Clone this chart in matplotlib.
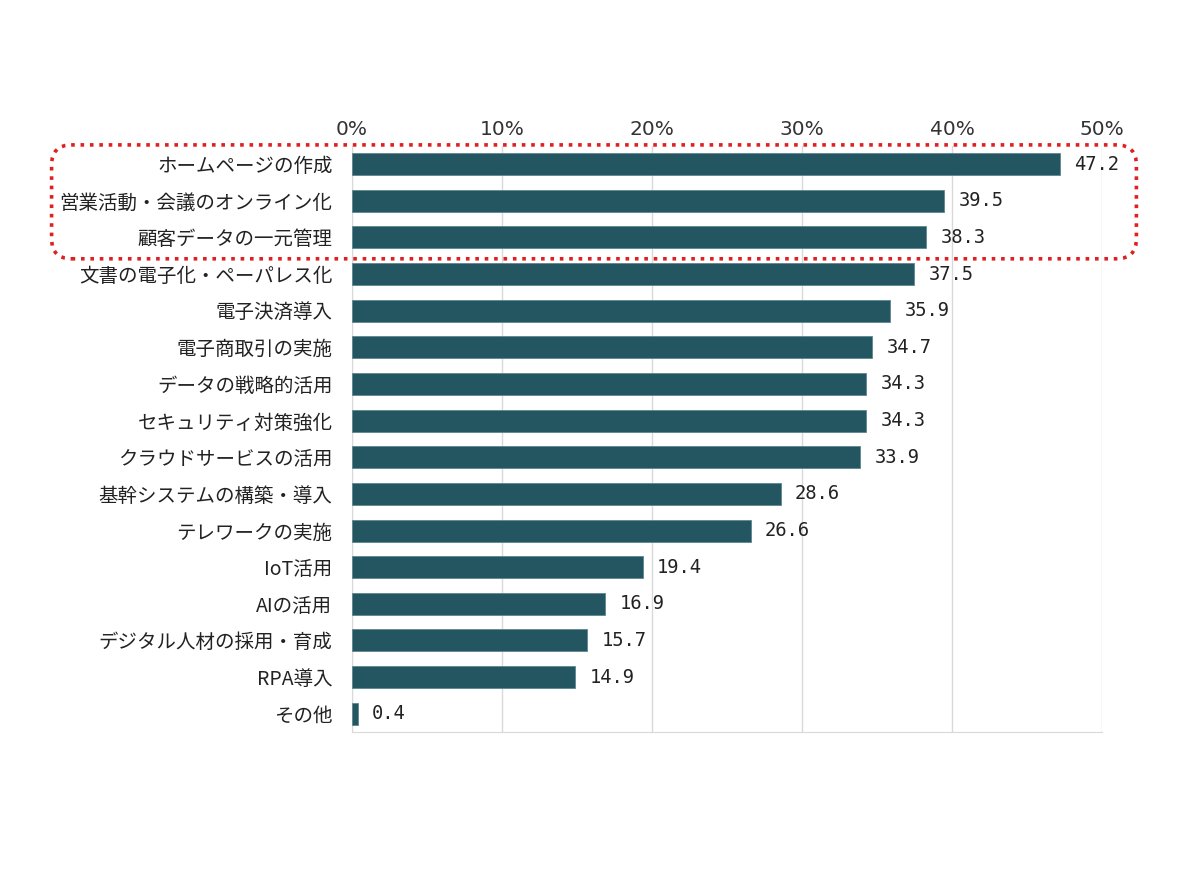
import matplotlib.pyplot as plt
from matplotlib.patches import FancyBboxPatch
from matplotlib.transforms import IdentityTransform

plt.rcParams['font.family'] = ['Noto Sans CJK JP', 'DejaVu Sans']

categories = [
    'ホームページの作成', '営業活動・会議のオンライン化', '顧客データの一元管理',
    '文書の電子化・ペーパレス化', '電子決済導入', '電子商取引の実施',
    'データの戦略的活用', 'セキュリティ対策強化', 'クラウドサービスの活用',
    '基幹システムの構築・導入', 'テレワークの実施', 'IoT活用', 'AIの活用',
    'デジタル人材の採用・育成', 'RPA導入', 'その他',
]
values = [47.2, 39.5, 38.3, 37.5, 35.9, 34.7, 34.3, 34.3, 33.9,
          28.6, 26.6, 19.4, 16.9, 15.7, 14.9, 0.4]
xticks = [0, 10, 20, 30, 40, 50]
xticklabels = ['0%', '10%', '20%', '30%', '40%', '50%']

bar_color = '#245662'
grid_color = '#d9d9d9'

fig = plt.figure(figsize=(12, 8.88), dpi=100)
ax = fig.add_axes([0.2933, 0.1757, 0.625, 0.66])

ypos = list(range(len(categories)))
ax.barh(ypos, values, height=0.6, color=bar_color, edgecolor='#5d8690', linewidth=0.6, zorder=3)

for y, v in zip(ypos, values):
    ax.annotate(f'{v:.1f}', (v, y), xytext=(10, 0), textcoords='offset points',
                va='center', ha='left', fontsize=13.5, color='#222222',
                family='DejaVu Sans Mono')

ax.set_xlim(0, 50)
ax.set_ylim(len(categories) - 0.5, -0.5)
ax.set_yticks(ypos)
ax.set_yticklabels(categories, fontsize=14, color='#222222')
ax.set_xticks(xticks)
ax.set_xticklabels(xticklabels, fontsize=14.5, color='#333333', family='DejaVu Sans')
ax.xaxis.tick_top()
ax.tick_params(axis='both', length=0)
ax.tick_params(axis='x', pad=5)
ax.tick_params(axis='y', pad=14)
ax.grid(axis='x', color=grid_color, linewidth=1, zorder=0)

for side in ['top', 'right']:
    ax.spines[side].set_visible(False)
for side in ['left', 'bottom']:
    ax.spines[side].set_color(grid_color)

# red dotted box around the top three items
fig.canvas.draw()
y_top = ax.transData.transform((0, -0.5))[1]
y_bot = ax.transData.transform((0, 2.5))[1]
x_left = 0.043 * fig.bbox.width
x_right = 0.947 * fig.bbox.width
box = FancyBboxPatch((x_left, y_bot - 3), x_right - x_left, y_top - y_bot + 4,
                     boxstyle='round,pad=0,rounding_size=20',
                     transform=IdentityTransform(), fill=False,
                     edgecolor='#e02020', linestyle=(0, (1, 1.6)), linewidth=2.6,
                     zorder=10)
fig.patches.append(box)

fig.savefig('out.png', dpi=100)
